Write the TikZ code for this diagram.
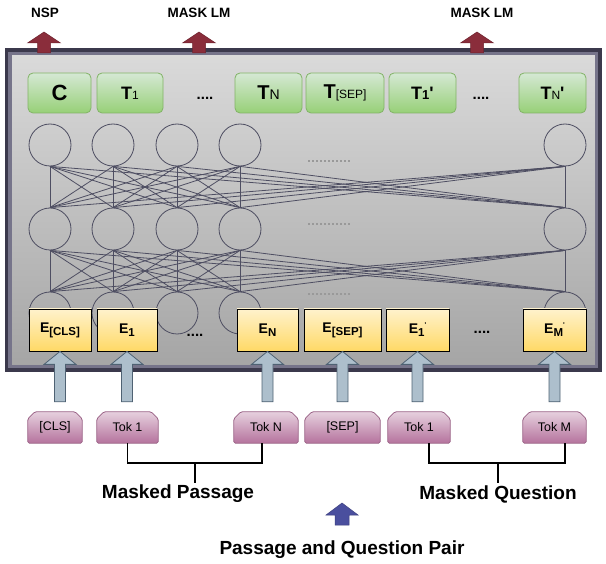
\documentclass[tikz,border=0pt]{standalone}
\usepackage{fontspec}
\setmainfont{Liberation Sans}
\usetikzlibrary{backgrounds,calc}
\definecolor{frameout}{HTML}{3B394C}
\definecolor{framein}{HTML}{76748A}
\definecolor{frametop}{HTML}{DADADA}
\definecolor{framebot}{HTML}{A5A5A5}
\definecolor{netline}{HTML}{4E4E62}
\definecolor{outline}{HTML}{82B366}
\definecolor{outtop}{HTML}{D5E8D4}
\definecolor{outbot}{HTML}{97D077}
\definecolor{embtop}{HTML}{FFF2CC}
\definecolor{embbot}{HTML}{FFD966}
\definecolor{toktop}{HTML}{E6D0DE}
\definecolor{tokbot}{HTML}{B5739D}
\definecolor{tokline}{HTML}{996185}
\definecolor{steelfill}{HTML}{ADBFCC}
\definecolor{steelline}{HTML}{4F6273}
\definecolor{headred}{HTML}{8A2D3B}
\definecolor{pairblue}{HTML}{4A4F9E}
% fat block arrow from #2 up to #3: #4 half head, #5 half shaft, #6 head length
\newcommand\fatarrow[6]{%
  \path[#1] let \p1=(#2), \p2=(#3) in
    (\x2,\y2) -- (\x2+#4,\y2-#6) -- (\x2+#5,\y2-#6) -- (\x2+#5,\y1)
    -- (\x2-#5,\y1) -- (\x2-#5,\y2-#6) -- (\x2-#4,\y2-#6) -- cycle;}
\newcommand\subfont{\mdseries\fontsize{12}{12}\selectfont}
\newcommand\esub[1]{\raisebox{-3pt}{\fontsize{11.5}{11.5}\selectfont #1}}
\newcommand\esup{\raisebox{6pt}{\fontsize{7}{7}\selectfont\textquotesingle}}
\newcommand\tprime{\textquotesingle}
\tikzset{
    neuron/.style={
        circle,
        draw=netline,
        line width=0.8pt,
        minimum size=42pt,
        inner sep=0,
    },
    link/.style={draw=netline, line width=0.8pt},
    outbox/.style={
        draw=outline,
        line width=0.8pt,
        rounded corners=5pt,
        top color=outtop,
        bottom color=outbot,
        minimum width=#1,
        minimum height=40pt,
        inner sep=0,
        font=\bfseries\fontsize{18}{18}\selectfont,
    },
    embbox/.style={
        draw=black,
        line width=0.8pt,
        top color=embtop,
        bottom color=embbot,
        minimum width=#1,
        minimum height=42pt,
        inner sep=0,
        font=\bfseries\fontsize{14}{14}\selectfont,
    },
    tokbox/.style={
        minimum width=#1,
        minimum height=31pt,
        inner sep=0,
        font=\fontsize{12.5}{12.5}\selectfont,
    },
    tokshape/.style={
        draw=tokline,
        line width=0.8pt,
        top color=toktop,
        bottom color=tokbot,
        rounded corners=1.5pt,
    },
    dots/.style={font=\bfseries\fontsize{15}{15}\selectfont, inner sep=0},
    netdots/.style={draw=gray!80, line width=2pt, dash pattern=on 2pt off 2pt},
    steel/.style={fill=steelfill, draw=steelline, line width=0.8pt},
    headarrow/.style={fill=headred, draw=headred!80!black, line width=0.5pt},
    pairarrow/.style={fill=pairblue, draw=pairblue!80!black, line width=0.5pt},
    toplabel/.style={font=\bfseries\fontsize{13.5}{13.5}\selectfont},
    caption/.style={font=\bfseries\fontsize{19}{19}\selectfont},
    bracket/.style={draw=black, line width=1.5pt},
}
\begin{document}
\begin{tikzpicture}[x=1pt, y=-1pt]
    \useasboundingbox (0,0) rectangle (606,564);

    % encoder frame
    \begin{scope}[on background layer]
        \path[top color=frametop, bottom color=framebot] (10,53.3) rectangle (596.7,366.7);
        \draw[draw=framein, line width=3.3pt] (10,53.3) rectangle (596.7,366.7);
        \draw[draw=frameout, line width=3.3pt] (6.7,50) rectangle (600,370);
    \end{scope}

    % transformer layers
    \foreach \x [count=\i] in {50,113,177,240,565}
        \foreach \y [count=\r] in {145,229,313}
            \node[neuron] (n\i-\r) at (\x,\y) {};
    \foreach \i in {1,...,5}
        \foreach \j in {1,...,5} {
            \draw[link] (n\i-1.south) -- (n\j-2.north);
            \draw[link] (n\i-2.south) -- (n\j-3.north);
        }
    \draw[netdots] (308,161) -- (350,161);
    \draw[netdots] (308,224) -- (350,224);
    \draw[netdots] (308,294) -- (350,294);

    % outputs
    \node[outbox=63pt, font=\bfseries\fontsize{22}{22}\selectfont] (oc) at (59.5,93) {C};
    \node[outbox=66pt] (ot1) at (130,93) {T{\subfont 1}};
    \node[dots] (od1) at (205,98) {....};
    \node[outbox=67pt, font=\bfseries\fontsize{20}{20}\selectfont] (otn) at (268.5,93) {T{\mdseries\fontsize{14}{14}\selectfont N}};
    \node[outbox=78pt, font=\bfseries\fontsize{20}{20}\selectfont] (osep) at (345,93) {T{\subfont [SEP]}};
    \node[outbox=67pt] (oq1) at (422.5,93) {T{\fontsize{13}{13}\selectfont 1}\tprime};
    \node[dots] (od2) at (481,98) {....};
    \node[outbox=67pt] (oqn) at (552.5,93) {T{\subfont N}\tprime};

    % embeddings
    \node[embbox=62pt] (ecls) at (60,330) {E\esub{[CLS]}};
    \node[embbox=60pt] (e1) at (127,330) {E\esub{1}};
    \node[dots] (ed1) at (195,335) {....};
    \node[embbox=61pt] (en) at (267.5,330) {E\esub{N}};
    \node[embbox=77pt] (esep) at (342.5,330) {E\esub{[SEP]}};
    \node[embbox=63pt] (eq1) at (417.5,330) {E\esub{1}\esup};
    \node[dots] (ed2) at (482,332) {....};
    \node[embbox=63pt] (eqm) at (554.5,330) {E\esub{M}\esup};

    % input tokens
    \node[tokbox=54pt] (tcls) at (55,427.5) {[CLS]};
    \node[tokbox=61pt] (ttok1) at (127.5,427.5) {Tok 1};
    \node[tokbox=64pt] (ttokn) at (266,427.5) {Tok N};
    \node[tokbox=75pt] (tsep) at (342.5,427.5) {[SEP]};
    \node[tokbox=62pt] (tq1) at (419,427.5) {Tok 1};
    \node[tokbox=63pt] (tqm) at (554.5,427.5) {Tok M};
    \begin{scope}[on background layer]
        \foreach \t in {tcls,ttok1,ttokn,tsep,tq1,tqm}
            \path[tokshape] (\t.south) -- (\t.south west) -- ([yshift=-7pt]\t.north west)
                -- ([xshift=7pt]\t.north west) -- ([xshift=-7pt]\t.north east)
                -- ([yshift=-7pt]\t.north east) -- (\t.south east) -- cycle;
    \end{scope}

    % token to embedding arrows
    \foreach \t/\e in {tcls/ecls,ttok1/e1,ttokn/en,tsep/esep,tq1/eq1,tqm/eqm}
        \fatarrow{steel}{[yshift=10pt]\t.north}{\e.south}{16pt}{5.5pt}{13pt};

    % heads
    \node[toplabel] (nsp) at (45,13) {NSP};
    \node[toplabel] (mlm1) at (199,13) {MASK LM};
    \node[toplabel] (mlm2) at (482,13) {MASK LM};
    \coordinate (nspbase) at (44,53);
    \coordinate (nsptip) at (44,32);
    \coordinate (mlm1base) at (199,53);
    \coordinate (mlm1tip) at (199,32);
    \coordinate (mlm2base) at (477,53);
    \coordinate (mlm2tip) at (477,32);
    \fatarrow{headarrow}{nspbase}{nsptip}{16.5pt}{6.5pt}{11pt};
    \fatarrow{headarrow}{mlm1base}{mlm1tip}{16.5pt}{6.5pt}{11pt};
    \fatarrow{headarrow}{mlm2base}{mlm2tip}{16.5pt}{6.5pt}{11pt};

    % segments
    \coordinate (mpj) at (195,463);
    \coordinate (mpe) at (195,483);
    \coordinate (mqj) at (498,463);
    \coordinate (mqe) at (498,483);
    \draw[bracket] (ttok1.south) |- (mpj) -| ([xshift=-4pt]ttokn.south);
    \draw[bracket] (mpj) -- (mpe);
    \draw[bracket] ([xshift=10pt]tq1.south) |- (mqj) -| ([xshift=10.5pt]tqm.south);
    \draw[bracket] (mqj) -- (mqe);
    \node[caption] (mpass) at (178,494) {Masked Passage};
    \node[caption] (mquest) at (498,494) {Masked Question};

    % input pair
    \coordinate (pairbase) at (342,525);
    \coordinate (pairtip) at (342,503);
    \fatarrow{pairarrow}{pairbase}{pairtip}{16pt}{7pt}{12pt};
    \node[caption] (pair) at (342,550) {Passage and Question Pair};
\end{tikzpicture}
\end{document}
